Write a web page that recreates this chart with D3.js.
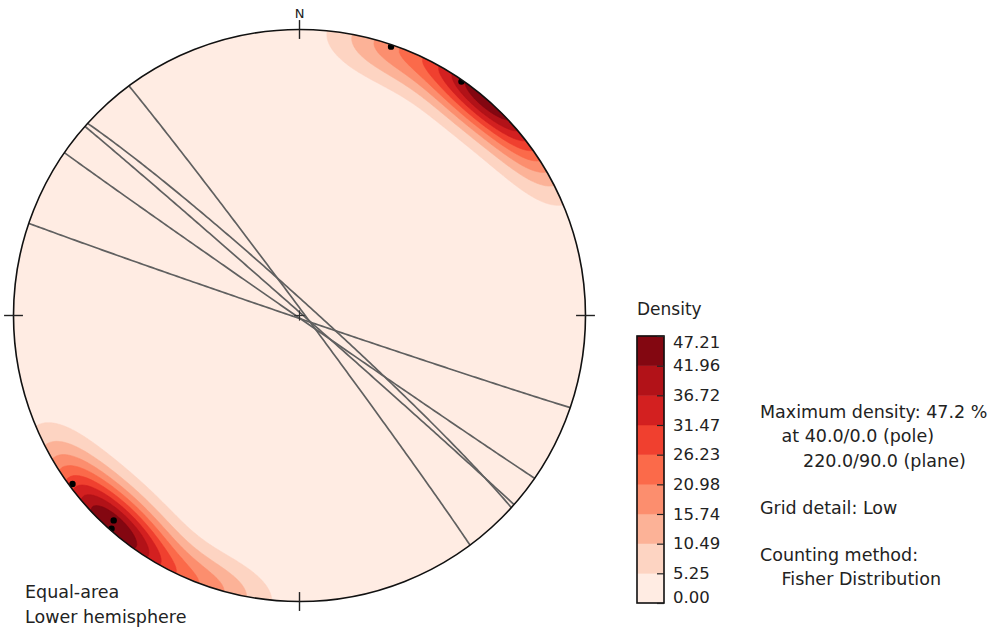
<!DOCTYPE html>
<html>
<head>
<meta charset="utf-8">
<script src="https://cdn.jsdelivr.net/npm/d3@7"></script>
<style>
  body { margin: 0; background: #ffffff; }
  text { fill: #222; }
</style>
</head>
<body>
<svg id="chart" width="994" height="630"></svg>
<script>
// Measured planes, strike / dip in degrees (right-hand rule)
const planeStrikes = [323.4, 312.2, 311.4, 124.7, 108.8];
const planeDips    = [88.7, 86.3, 89.3, 89.4, 89.2];

// Density scale (percent) and its labels
const densityLevels = [0.00, 5.25, 10.49, 15.74, 20.98, 26.23, 31.47, 36.72, 41.96, 47.21];
const densityTickLabels = ["0.00", "5.25", "10.49", "15.74", "20.98", "26.23", "31.47", "36.72", "41.96", "47.21"];
const densityTitle = "Density";
const northLabel = "N";
const projectionLabels = ["Equal-area", "Lower hemisphere"];
const infoLines = [
  { text: "Maximum density: 47.2 %", indent: 0, gap: 0 },
  { text: "at 40.0/0.0 (pole)", indent: 1, gap: 0 },
  { text: "220.0/90.0 (plane)", indent: 2, gap: 0 },
  { text: "Grid detail: Low", indent: 0, gap: 1 },
  { text: "Counting method:", indent: 0, gap: 1 },
  { text: "Fisher Distribution", indent: 1, gap: 0 }
];
// Fisher concentration used for the density kernel
const fisherKappa = 40;

// matplotlib "Reds" anchor colours
const redsAnchors = ["#fff5f0", "#fee0d2", "#fcbba1", "#fc9272", "#fb6a4a", "#ef3b2c", "#cb181d", "#a50f15", "#67000d"];
const reds = d3.scaleLinear()
  .domain(d3.range(redsAnchors.length).map(i => i / (redsAnchors.length - 1)))
  .range(redsAnchors)
  .interpolate(d3.interpolateRgb);

const svg = d3.select("#chart");
const cx = 299.5, cy = 315.5, R = 286;
const rad = Math.PI / 180;
const FONT = "'DejaVu Sans', sans-serif";

// unit-disk coordinates -> pixels (north up)
const xs = d3.scaleLinear().domain([-1, 1]).range([cx - R, cx + R]);
const ys = d3.scaleLinear().domain([-1, 1]).range([cy + R, cy - R]);

// direction cosines (east, north, down) of a line given trend / plunge
function lineVec(trend, plunge) {
  const t = trend * rad, p = plunge * rad;
  return [Math.cos(p) * Math.sin(t), Math.cos(p) * Math.cos(t), Math.sin(p)];
}
// lower hemisphere Schmidt (equal-area) projection onto the unit disk
function toDisk(v) {
  let [e, n, d] = v;
  if (d < 0) { e = -e; n = -n; d = -d; }
  const theta = Math.acos(Math.min(1, d));
  const r = Math.SQRT2 * Math.sin(theta / 2);
  const h = Math.hypot(e, n);
  return h < 1e-12 ? [0, 0] : [r * e / h, r * n / h];
}
// inverse projection; radii past the primitive continue into the upper hemisphere
function fromDisk(u, v) {
  const h = Math.hypot(u, v);
  const r = Math.min(h, Math.SQRT2);
  const theta = 2 * Math.asin(r / Math.SQRT2);
  const s = Math.sin(theta);
  return h < 1e-12 ? [0, 0, 1] : [s * u / h, s * v / h, Math.cos(theta)];
}

// poles to the planes
const poles = planeStrikes.map((s, i) => ({
  trend: (s - 90 + 360) % 360,
  plunge: 90 - planeDips[i]
}));
const poleVecs = poles.map(p => lineVec(p.trend, p.plunge));

// ---- density grid (axial Fisher kernel) ----
const extent = 1.12, n = 225;
const step = 2 * extent / (n - 1);
const raw = new Float64Array(n * n);
let rawMax = 0;
for (let j = 0; j < n; j++) {
  const v = -extent + j * step;
  for (let i = 0; i < n; i++) {
    const u = -extent + i * step;
    const g = fromDisk(u, v);
    let sum = 0;
    for (const p of poleVecs) {
      const c = Math.abs(g[0] * p[0] + g[1] * p[1] + g[2] * p[2]);
      sum += Math.exp(fisherKappa * (c - 1));
    }
    raw[j * n + i] = sum;
    if (Math.hypot(u, v) <= 1 && sum > rawMax) rawMax = sum;
  }
}
const topLevel = densityLevels[densityLevels.length - 1];
const density = Array.from(raw, d => d / rawMax * topLevel);

const bands = densityLevels.slice(0, -1);
const bandColor = i => reds((i + 0.5) / bands.length);

const contours = d3.contours().size([n, n]).thresholds(bands)(density);
const gridPath = d3.geoPath(d3.geoTransform({
  point(px, py) {
    this.stream.point(xs(-extent + (px - 0.5) * step), ys(-extent + (py - 0.5) * step));
  }
}));

svg.append("clipPath").attr("id", "net-clip")
  .append("circle").attr("cx", cx).attr("cy", cy).attr("r", R);

const net = svg.append("g").attr("clip-path", "url(#net-clip)");
net.selectAll("path.band")
  .data(contours)
  .join("path")
  .attr("class", "band")
  .attr("d", gridPath)
  .attr("fill", (d, i) => bandColor(i))
  .attr("stroke", (d, i) => bandColor(i))
  .attr("stroke-width", 0.6);

// ---- great circles ----
const arcLine = d3.line().x(d => xs(d[0])).y(d => ys(d[1]));
const greatCircles = planeStrikes.map((s, i) => {
  const sv = lineVec(s, 0);
  const dv = lineVec(s + 90, planeDips[i]);
  return d3.range(0, 181).map(a => {
    const t = a * rad;
    return toDisk([
      Math.cos(t) * sv[0] + Math.sin(t) * dv[0],
      Math.cos(t) * sv[1] + Math.sin(t) * dv[1],
      Math.cos(t) * sv[2] + Math.sin(t) * dv[2]
    ]);
  });
});
net.selectAll("path.plane")
  .data(greatCircles)
  .join("path")
  .attr("class", "plane")
  .attr("d", arcLine)
  .attr("fill", "none")
  .attr("stroke", "#606060")
  .attr("stroke-width", 1.7);

// ---- poles ----
net.selectAll("circle.pole")
  .data(poleVecs.map(toDisk))
  .join("circle")
  .attr("class", "pole")
  .attr("cx", d => xs(d[0]))
  .attr("cy", d => ys(d[1]))
  .attr("r", 3.2)
  .attr("fill", "#000");

// ---- primitive circle and ticks ----
svg.append("circle")
  .attr("cx", cx).attr("cy", cy).attr("r", R)
  .attr("fill", "none").attr("stroke", "#111").attr("stroke-width", 1.6);

const tickLen = 0.033;
const cardinal = [[0, 1], [1, 0], [0, -1], [-1, 0]];
cardinal.forEach(([a, b]) => {
  svg.append("line")
    .attr("x1", xs(a * (1 - tickLen))).attr("y1", ys(b * (1 - tickLen)))
    .attr("x2", xs(a * (1 + tickLen))).attr("y2", ys(b * (1 + tickLen)))
    .attr("stroke", "#222").attr("stroke-width", 1.4);
});
const cLen = 0.018;
svg.append("line").attr("x1", xs(-cLen)).attr("x2", xs(cLen)).attr("y1", ys(0)).attr("y2", ys(0))
  .attr("stroke", "#333").attr("stroke-width", 1.2);
svg.append("line").attr("x1", xs(0)).attr("x2", xs(0)).attr("y1", ys(-cLen)).attr("y2", ys(cLen))
  .attr("stroke", "#333").attr("stroke-width", 1.2);

svg.append("text")
  .attr("x", xs(0)).attr("y", ys(1) - 12)
  .attr("text-anchor", "middle")
  .style("font", `13px ${FONT}`)
  .text(northLabel);

svg.selectAll("text.proj")
  .data(projectionLabels)
  .join("text")
  .attr("class", "proj")
  .attr("x", 25)
  .attr("y", (d, i) => 597.5 + i * 25.5)
  .style("font", `17.5px ${FONT}`)
  .text(d => d);

// ---- colour bar ----
const cbX = 637, cbW = 27, cbTop = 336, cbBottom = 603;
const cbScale = d3.scaleLinear().domain([densityLevels[0], topLevel]).range([cbBottom, cbTop]);
const cb = svg.append("g");
cb.selectAll("rect")
  .data(bands)
  .join("rect")
  .attr("x", cbX)
  .attr("width", cbW)
  .attr("y", (d, i) => cbScale(densityLevels[i + 1]))
  .attr("height", (d, i) => cbScale(densityLevels[i]) - cbScale(densityLevels[i + 1]))
  .attr("fill", (d, i) => bandColor(i))
  .attr("stroke", (d, i) => bandColor(i))
  .attr("stroke-width", 0.5);
cb.append("rect")
  .attr("x", cbX).attr("y", cbTop).attr("width", cbW).attr("height", cbBottom - cbTop)
  .attr("fill", "none").attr("stroke", "#111").attr("stroke-width", 1.6);

const cbAxis = d3.axisRight(cbScale)
  .tickValues(densityLevels)
  .tickFormat((d, i) => densityTickLabels[i])
  .tickSizeInner(-7)
  .tickSizeOuter(0)
  .tickPadding(9);
const axisG = svg.append("g")
  .attr("transform", `translate(${cbX + cbW},0)`)
  .call(cbAxis);
axisG.select(".domain").remove();
axisG.selectAll(".tick line").attr("stroke", "#222").attr("stroke-width", 1.2);
axisG.selectAll(".tick text")
  .style("font", `16.5px ${FONT}`)
  .attr("fill", "#222")
  .attr("dy", (d, i) => i === 0 ? "-0.05em" : (i === densityLevels.length - 1 ? "0.7em" : "0.32em"));

svg.append("text")
  .attr("x", cbX)
  .attr("y", cbTop - 21)
  .style("font", `17px ${FONT}`)
  .text(densityTitle);

// ---- summary text ----
let ty = 417.5;
const info = svg.append("g");
infoLines.forEach((l, i) => {
  if (i > 0) ty += l.gap ? 47 : 24.5;
  info.append("text")
    .attr("x", 760 + l.indent * 21.5)
    .attr("y", ty)
    .style("font", `17.5px ${FONT}`)
    .text(l.text);
});
</script>
</body>
</html>
